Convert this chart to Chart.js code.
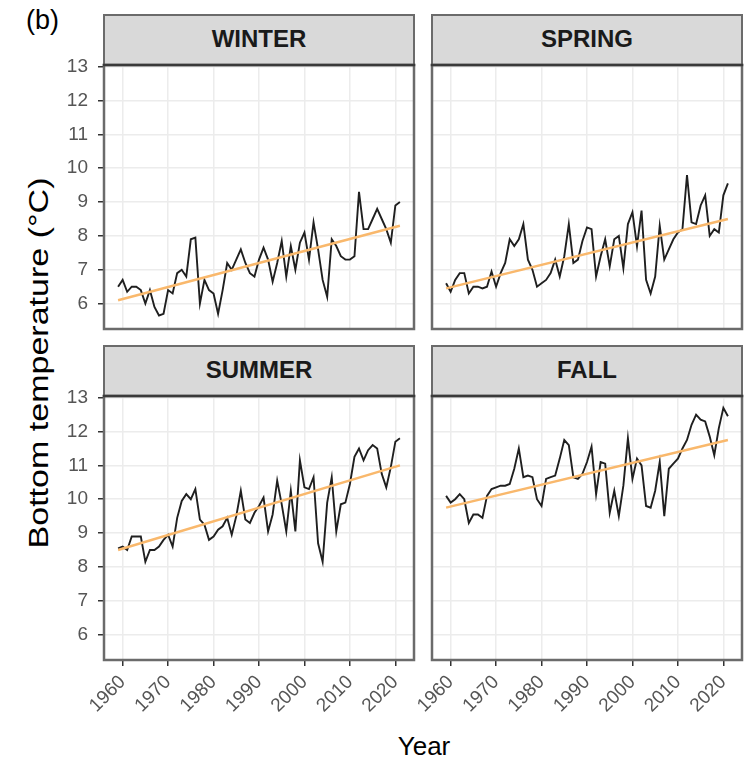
<!DOCTYPE html>
<html>
<head>
<meta charset="utf-8">
<script src="https://cdn.jsdelivr.net/npm/chart.js@4.4.1/dist/chart.umd.min.js"></script>
<style>
body{margin:0;background:#fff;font-family:"Liberation Sans",Arial,sans-serif}
#wrap{position:relative;width:749px;height:765px;overflow:hidden}
canvas{position:absolute}
.strip{position:absolute;box-sizing:border-box;background:#d9d9d9;border:2.5px solid #6b6b6b;border-bottom:none;
 font-weight:bold;font-size:24px;color:#1a1a1a;text-align:center;line-height:46px}
.lbl{position:absolute;color:#000;font-size:26px;white-space:nowrap}
</style>
</head>
<body>
<div id="wrap">
<div class="lbl" style="left:26px;top:5px;font-size:27px">(b)</div>
<div class="lbl" id="ytitle" style="left:39px;top:363px;font-size:27px;transform:translate(-50%,-50%) rotate(-90deg) scaleX(1.26)">Bottom temperature (°C)</div>
<div class="lbl" style="left:424px;top:746px;transform:translate(-50%,-50%)">Year</div>
</div>
<script>
// years 1959-2021
let years = [1959,1960,1961,1962,1963,1964,1965,1966,1967,1968,1969,
1970,1971,1972,1973,1974,1975,1976,1977,1978,1979,
1980,1981,1982,1983,1984,1985,1986,1987,1988,1989,
1990,1991,1992,1993,1994,1995,1996,1997,1998,1999,
2000,2001,2002,2003,2004,2005,2006,2007,2008,2009,
2010,2011,2012,2013,2014,2015,2016,2017,2018,2019,
2020,2021]

let winterTemp = [6.5,6.7,6.35,6.5,6.5,6.4,6.0,6.4,5.9,5.65,5.7,
6.4,6.3,6.9,7.0,6.8,7.9,7.95,6.0,6.7,6.4,
6.3,5.7,6.4,7.2,7.0,7.3,7.6,7.2,6.9,6.8,
7.3,7.65,7.3,6.65,7.2,7.85,6.8,7.7,7.0,7.8,
8.1,7.3,8.4,7.6,6.7,6.2,7.9,7.7,7.4,7.3,
7.3,7.4,9.3,8.2,8.2,8.5,8.8,8.5,8.2,7.8,
8.9,9.0]

let springTemp = [6.6,6.35,6.7,6.9,6.9,6.3,6.5,6.5,6.45,6.5,6.95,
6.5,6.9,7.2,7.9,7.7,7.9,8.35,7.3,7.0,6.5,
6.6,6.7,6.9,7.3,6.8,7.4,8.35,7.2,7.3,7.85,
8.25,8.2,6.8,7.4,7.9,7.1,7.9,8.0,7.05,8.35,
8.7,7.7,8.75,6.7,6.3,6.8,8.3,7.3,7.6,7.9,
8.1,8.2,9.8,8.4,8.35,8.9,9.2,8.0,8.2,8.1,
9.2,9.55]

let summerTemp = [8.55,8.6,8.5,8.9,8.9,8.9,8.15,8.5,8.5,8.6,8.8,
8.95,8.6,9.45,9.95,10.15,10.0,10.3,9.4,9.25,8.8,
8.9,9.1,9.2,9.45,8.95,9.5,10.25,9.4,9.3,9.6,
9.8,10.05,9.05,9.55,10.55,9.85,9.05,10.25,9.05,11.15,
10.35,10.3,10.65,8.7,8.15,9.9,10.65,9.05,9.85,9.9,
10.45,11.25,11.5,11.15,11.45,11.6,11.5,10.75,10.35,10.95,
11.7,11.8]

let fallTemp = [10.1,9.9,10.0,10.15,10.0,9.3,9.55,9.55,9.45,10.1,10.3,
10.35,10.4,10.4,10.45,10.9,11.5,10.65,10.7,10.65,10.0,
9.8,10.6,10.65,10.7,11.2,11.75,11.6,10.65,10.6,10.75,
11.1,11.55,10.15,11.1,11.05,9.6,10.25,9.5,10.4,11.8,
10.6,11.2,11.0,9.8,9.75,10.25,11.1,9.5,10.9,11.05,
11.2,11.5,11.75,12.2,12.5,12.35,12.3,11.85,11.3,12.1,
12.7,12.45]

// linear trend end points
let trendYears = [1959, 2021]
let winterTrend = [6.1, 8.3]
let springTrend = [6.45, 8.5]
let summerTrend = [8.5, 11.0]
let fallTrend = [9.75, 11.75]

let xTicks = [1960,1970,1980,1990,2000,2010,2020]
let yTicks = [6,7,8,9,10,11,12,13]

let panels = [
 {label:"WINTER", values:winterTemp, trend:winterTrend, col:0, row:0},
 {label:"SPRING", values:springTemp, trend:springTrend, col:1, row:0},
 {label:"SUMMER", values:summerTemp, trend:summerTrend, col:0, row:1},
 {label:"FALL", values:fallTemp, trend:fallTrend, col:1, row:1}
]

let plotX = [104, 432]
let plotY = [65, 396]
let plotW = 310
let plotH = 264

Chart.defaults.font.family = '"Liberation Sans", Arial, sans-serif'

const panelBorder = {
 id:"panelBorder",
 afterDraw(chart){
  let a = chart.chartArea
  let c = chart.ctx
  c.save()
  c.lineWidth = 2.5
  c.strokeStyle = "#6b6b6b"
  c.strokeRect(a.left, a.top, a.right-a.left, a.bottom-a.top)
  c.strokeStyle = "#3a3a3a"
  c.beginPath()
  c.moveTo(a.left-1.25, a.top)
  c.lineTo(a.right+1.25, a.top)
  c.stroke()
  c.restore()
 }
}

function noPad(s){
 s.paddingTop = 0
 s.paddingBottom = 0
 s.paddingLeft = 0
 s.paddingRight = 0
}

let wrap = document.getElementById("wrap")

panels.forEach(function(p){

 let px = plotX[p.col]
 let py = plotY[p.row]
 let canvasLeft = p.col==0 ? 40 : 412
 let padLeft = p.col==1 ? 20 : 0
 let leftW = p.col==0 ? px - canvasLeft : 0
 let bottomH = p.row==1 ? 60 : 6
 let topH = 16

 let strip = document.createElement("div")
 strip.className = "strip"
 strip.style.left = (px-1.25)+"px"
 strip.style.top = (py-51)+"px"
 strip.style.width = (plotW+2.5)+"px"
 strip.style.height = "51px"
 strip.innerText = p.label
 wrap.appendChild(strip)

 let cv = document.createElement("canvas")
 cv.width = padLeft + leftW + plotW + 6
 cv.height = topH + plotH + bottomH
 cv.style.left = canvasLeft+"px"
 cv.style.top = (py-topH)+"px"
 wrap.appendChild(cv)

 let pts = years.map((y,i)=>({x:y, y:p.values[i]}))
 let trendPts = trendYears.map((y,i)=>({x:y, y:p.trend[i]}))

 new Chart(cv,{
  type:"line",
  data:{
   datasets:[
    {data:trendPts, borderColor:"#f9b86c", borderWidth:2.4, pointRadius:0, order:0},
    {data:pts, borderColor:"#1f1f1f", borderWidth:1.9, pointRadius:0, order:1}
   ]
  },
  options:{
   responsive:false,
   animation:false,
   events:[],
   layout:{padding:{top:topH, right:6, left:padLeft, bottom:p.row==0?bottomH:0}},
   plugins:{legend:{display:false}, tooltip:{enabled:false}},
   scales:{
    x:{
     type:"linear", min:1955.9, max:2024.1,
     afterBuildTicks(s){ s.ticks = xTicks.map(v=>({value:v})) },
     afterFit(s){ s.height = p.row==1 ? bottomH : 0; noPad(s) },
     border:{display:false},
     grid:{color:"#ececec", lineWidth:1.5, drawTicks:p.row==1, tickLength:6, tickColor:"#333", tickWidth:1.5},
     ticks:{display:p.row==1, autoSkip:false, minRotation:45, maxRotation:45, padding:5,
      color:"#555", font:{size:19}, callback:v=>String(v)}
    },
    y:{
     type:"linear", min:5.25, max:13.05,
     afterBuildTicks(s){ s.ticks = yTicks.map(v=>({value:v})) },
     afterFit(s){ s.width = leftW; noPad(s) },
     border:{display:false},
     grid:{color:"#ececec", lineWidth:1.5, drawTicks:p.col==0, tickLength:6, tickColor:"#333", tickWidth:1.5},
     ticks:{display:p.col==0, padding:10, color:"#555", font:{size:19}}
    }
   }
  },
  plugins:[panelBorder]
 })

})
</script>
</body>
</html>
